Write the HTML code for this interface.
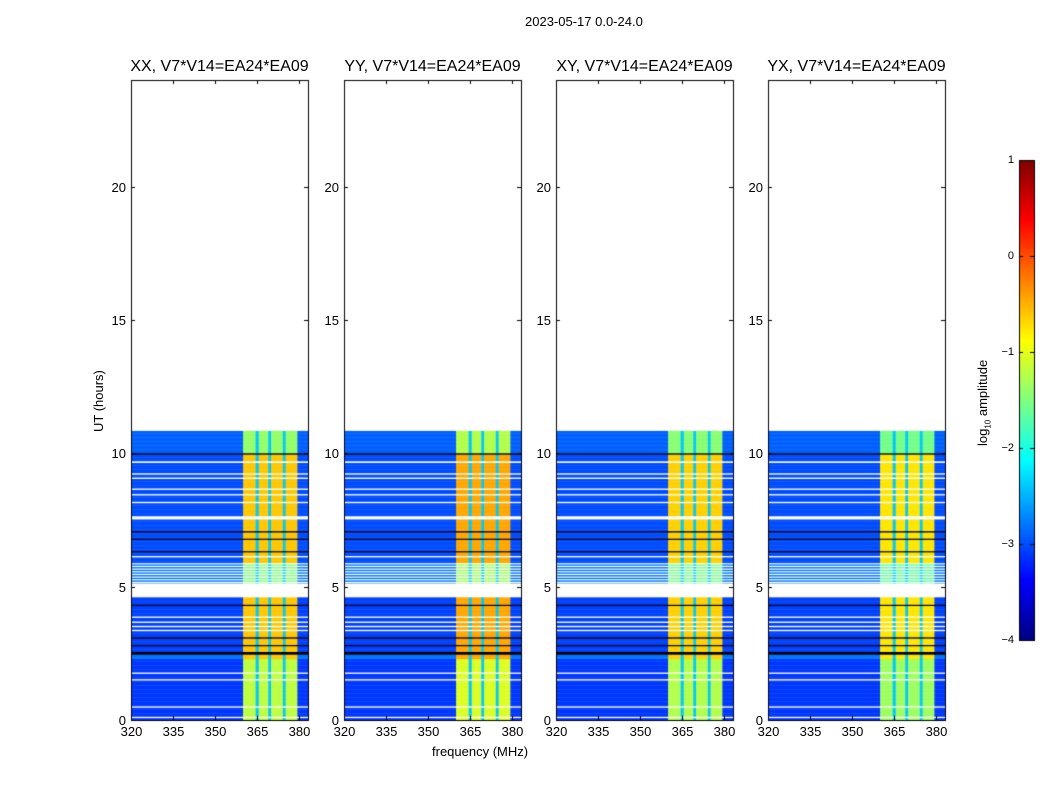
<!DOCTYPE html>
<html><head><meta charset="utf-8"><style>
body{margin:0;background:#fff;font-family:"Liberation Sans",sans-serif}
#wrap{position:relative;width:1050px;height:800px}
canvas{position:absolute;left:0;top:0}
.t{position:absolute;font-size:13px;color:#000;white-space:nowrap}
.pt{position:absolute;font-size:16px;white-space:nowrap;transform:translateX(-50%)}
</style></head><body>
<div id="wrap">
<canvas id="c" width="1050" height="800"></canvas>
<div class="t" style="left:525px;top:14px">2023-05-17 0.0-24.0</div>
<div class="t" style="left:432px;top:744px">frequency (MHz)</div>
<div class="t" style="left:91px;top:432px;transform:rotate(-90deg);transform-origin:0 0">UT (hours)</div>
<div class="t" style="left:975px;top:446px;transform:rotate(-90deg);transform-origin:0 0">log<sub style="font-size:8px">10</sub> amplitude</div>
<div id="labels"></div>
</div>
<script>
const panels=["XX, V7*V14=EA24*EA09","YY, V7*V14=EA24*EA09","XY, V7*V14=EA24*EA09","YX, V7*V14=EA24*EA09"];
const panelLeft=[131,344,556,768];
const panelGain=[0,0.15,-0.05,-0.15];
const xTicks=[320,335,350,365,380];
const yTicks=[0,5,10,15,20];
const cbTicks=[-4,-3,-2,-1,0,1];
// band intensity vs time: [start hr, end hr, level]
const bandLevels=[[0,2.3,-1.2],[2.3,4.6,-0.6],[5.1,5.9,-1.5],[5.9,10,-0.6],[10,10.85,-1.4]];
const bgLevels=[[0,2.3,-3.1],[2.3,2.5,-2.8],[2.5,4.6,-3.05],[5.1,5.9,-2.8],[5.9,10,-3.0],[10,10.85,-2.9]];
// channel segments: [start MHz, end MHz, type] type: 0 bg, 1 band, 2 gap
const chanSegs=[[320,360,0],[360,364.5,1],[364.5,365.6,2],[365.6,369,1],[369,370,2],[370,374.2,1],[374.2,375.2,2],[375.2,379.4,1],[379.4,383.2,0]];
const whiteRows=[[4.62,5.12],[9.64,9.7],[9.2,9.25],[9.04,9.09],[8.63,8.68],[8.42,8.47],[8.13,8.18],[7.52,7.64],[6.1,6.15],[3.83,3.88],[3.64,3.69],[3.48,3.53],[3.33,3.38],[1.73,1.78],[1.48,1.53],[0.46,0.51],[0.07,0.12],
 [5.84,5.88],[5.74,5.78],[5.64,5.68],[5.54,5.58],[5.44,5.48],[5.34,5.38],[5.24,5.28],[5.14,5.18]];
const blackRows=[[9.95,10.0],[7.03,7.08],[6.76,6.8],[6.29,6.33],[4.28,4.32],[3.05,3.1],[2.77,2.81],[2.45,2.55]];
const tMax=10.85, fMin=320, fMax=383.2, yTop=80, yBot=720, pw=177;

function jet(v){let x=(v+4)/5;x=Math.max(0,Math.min(1,x));
 const f=t=>Math.max(0,Math.min(1,1.5-Math.abs(4*x-t)));
 return `rgb(${Math.round(255*f(3))},${Math.round(255*f(2))},${Math.round(255*f(1))})`;}
const yS=t=>yBot-(t/24)*(yBot-yTop);
const xS=(p,f)=>panelLeft[p]+(f-fMin)/(fMax-fMin)*pw;
function lvl(arr,t){for(const a of arr)if(t>=a[0]&&t<a[1])return a[2];return null;}
const cx=document.getElementById('c').getContext('2d');
const L=document.getElementById('labels');
function lab(txt,x,y,name,cls,align,fs){const d=document.createElement('div');d.className=cls||'t';d.textContent=txt;
 d.style.left=x+'px';d.style.top=y+'px';if(align)d.style.transform=align;if(fs)d.style.fontSize=fs;
 
 
 L.appendChild(d);}
for(let p=0;p<4;p++){
 const dt=0.05;
 for(let t=0;t<tMax;t+=dt){
  const b=lvl(bandLevels,t+dt/2), g=lvl(bgLevels,t+dt/2);
  if(b===null)continue;
  for(const s of chanSegs){
   let v=s[2]==1?b+panelGain[p]:(s[2]==2?-2.4:g);
   cx.fillStyle=jet(v);
   const x0=xS(p,s[0]),x1=xS(p,s[1]);
   cx.fillRect(x0,yS(t+dt),x1-x0+0.5,yS(t)-yS(t+dt)+0.5);
  }
 }
 const x0=panelLeft[p];
 cx.fillStyle='#fff';for(const r of whiteRows)cx.fillRect(x0,yS(r[1]),pw,Math.max(1.2,yS(r[0])-yS(r[1])));
 cx.fillStyle='#000';for(const r of blackRows)cx.fillRect(x0,yS(r[1]),pw,Math.max(1.2,yS(r[0])-yS(r[1])));
 cx.fillStyle='#fff';cx.fillRect(x0,yTop,pw,yS(tMax)-yTop);
 cx.strokeStyle='#000';cx.lineWidth=1;cx.strokeRect(x0+0.5,yTop+0.5,pw,yBot-yTop);
 cx.beginPath();
 for(const f of xTicks){const x=Math.round(xS(p,f))+0.5;cx.moveTo(x,yBot);cx.lineTo(x,yBot-4);cx.moveTo(x,yTop);cx.lineTo(x,yTop+4);
  lab(String(f),x,724,'x-tick-label','t','translateX(-50%)');}
 for(const t of yTicks){const y=Math.round(yS(t))+0.5;cx.moveTo(x0,y);cx.lineTo(x0+4,y);cx.moveTo(x0+pw,y);cx.lineTo(x0+pw-4,y);
  lab(String(t),x0-5,y-8,'y-tick-label','t','translateX(-100%)');}
 cx.stroke();
 lab(panels[p],x0+pw/2,58,'panel-title-'+p,'pt');
}
// colorbar
const cbx=1019,cbw=15,cbt=160,cbb=640;
for(let y=cbt;y<cbb;y++){cx.fillStyle=jet(1-(y-cbt)/(cbb-cbt)*5);cx.fillRect(cbx,y,cbw,1);}
cx.strokeStyle='#000';cx.strokeRect(cbx+0.5,cbt+0.5,cbw,cbb-cbt);
cx.beginPath();
for(const v of cbTicks){const y=Math.round(cbb-(v+4)/5*(cbb-cbt))+0.5;cx.moveTo(cbx,y);cx.lineTo(cbx+4,y);cx.moveTo(cbx+cbw,y);cx.lineTo(cbx+cbw-4,y);
 lab(v<0?'\u2212'+(-v):String(v),1014,y-7,'colorbar-tick-label','t','translateX(-100%)','11px');}
cx.stroke();
</script>
</body></html>
